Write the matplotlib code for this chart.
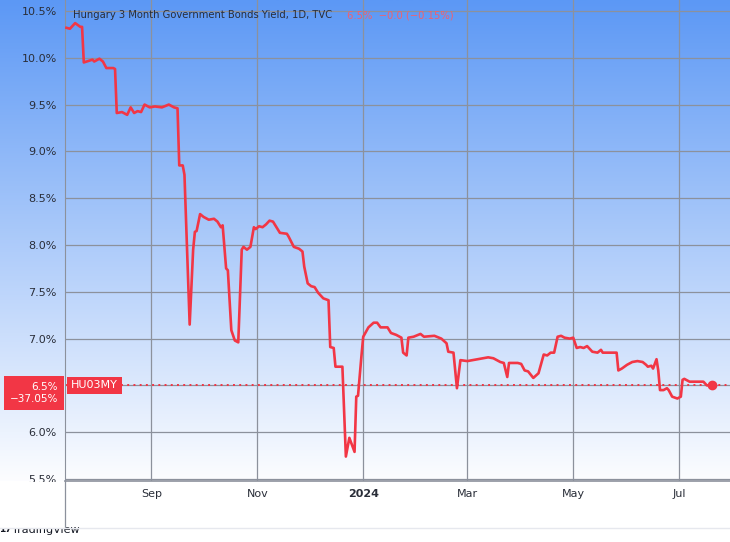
import numpy as np
import pandas as pd
import matplotlib
matplotlib.use("Agg")
import matplotlib.pyplot as plt
from matplotlib.lines import Line2D
from matplotlib.patches import Rectangle

# Hungary 3M government bond yield (%)
dates = [
    "2023-07-14", "2023-07-16", "2023-07-19", "2023-07-22", "2023-07-23", "2023-07-24",
    "2023-07-29", "2023-07-30", "2023-08-02", "2023-08-04", "2023-08-06", "2023-08-10",
    "2023-08-11", "2023-08-12", "2023-08-15", "2023-08-18", "2023-08-20", "2023-08-22",
    "2023-08-24", "2023-08-26", "2023-08-28", "2023-08-31", "2023-09-03", "2023-09-07",
    "2023-09-11", "2023-09-14", "2023-09-16", "2023-09-17", "2023-09-19", "2023-09-20",
    "2023-09-23", "2023-09-25", "2023-09-26", "2023-09-27", "2023-09-29", "2023-10-01",
    "2023-10-04", "2023-10-07", "2023-10-09", "2023-10-11", "2023-10-12", "2023-10-14",
    "2023-10-15", "2023-10-17", "2023-10-19", "2023-10-21", "2023-10-23", "2023-10-24",
    "2023-10-26", "2023-10-28", "2023-10-30", "2023-10-31", "2023-11-02", "2023-11-04",
    "2023-11-06", "2023-11-08", "2023-11-10", "2023-11-12", "2023-11-14", "2023-11-18",
    "2023-11-19", "2023-11-22", "2023-11-25", "2023-11-27", "2023-11-28", "2023-11-30",
    "2023-12-02", "2023-12-04", "2023-12-06", "2023-12-09", "2023-12-12", "2023-12-13",
    "2023-12-15", "2023-12-16", "2023-12-20", "2023-12-22", "2023-12-24", "2023-12-27",
    "2023-12-28", "2023-12-29", "2023-12-31", "2024-01-01", "2024-01-04", "2024-01-07",
    "2024-01-09", "2024-01-11", "2024-01-15", "2024-01-17", "2024-01-20", "2024-01-23",
    "2024-01-24", "2024-01-26", "2024-01-27", "2024-01-30", "2024-02-03", "2024-02-05",
    "2024-02-11", "2024-02-15", "2024-02-18", "2024-02-19", "2024-02-22", "2024-02-24",
    "2024-02-26", "2024-03-01", "2024-03-07", "2024-03-13", "2024-03-16", "2024-03-20",
    "2024-03-22", "2024-03-24", "2024-03-25", "2024-03-30", "2024-04-01", "2024-04-03",
    "2024-04-05", "2024-04-08", "2024-04-11", "2024-04-14", "2024-04-16", "2024-04-18",
    "2024-04-20", "2024-04-22", "2024-04-24", "2024-04-26", "2024-04-29", "2024-05-01",
    "2024-05-03", "2024-05-05", "2024-05-07", "2024-05-09", "2024-05-12", "2024-05-15",
    "2024-05-17", "2024-05-18", "2024-05-23", "2024-05-26", "2024-05-27", "2024-05-29",
    "2024-06-01", "2024-06-04", "2024-06-07", "2024-06-10", "2024-06-12", "2024-06-13",
    "2024-06-15", "2024-06-16", "2024-06-18", "2024-06-19", "2024-06-20", "2024-06-22",
    "2024-06-24", "2024-06-25", "2024-06-27", "2024-06-30", "2024-07-02", "2024-07-03",
    "2024-07-04", "2024-07-07", "2024-07-11", "2024-07-15", "2024-07-17", "2024-07-20",
]
yields = [
    10.32, 10.31, 10.37, 10.33, 10.33, 9.95,
    9.98, 9.96, 9.99, 9.96, 9.89, 9.89,
    9.88, 9.41, 9.42, 9.39, 9.47, 9.41,
    9.43, 9.42, 9.50, 9.47, 9.48, 9.47,
    9.50, 9.47, 9.46, 8.85, 8.85, 8.75,
    7.15, 7.95, 8.14, 8.15, 8.33, 8.30,
    8.27, 8.28, 8.25, 8.19, 8.21, 7.75,
    7.73, 7.09, 6.98, 6.96, 7.95, 7.98,
    7.95, 7.98, 8.19, 8.17, 8.20, 8.19,
    8.22, 8.26, 8.25, 8.19, 8.13, 8.12,
    8.09, 7.98, 7.96, 7.93, 7.77, 7.59,
    7.56, 7.55, 7.49, 7.43, 7.41, 6.91,
    6.90, 6.70, 6.70, 5.74, 5.94, 5.79,
    6.38, 6.39, 6.82, 7.02, 7.12, 7.17,
    7.17, 7.12, 7.12, 7.06, 7.04, 7.01,
    6.85, 6.82, 7.01, 7.02, 7.05, 7.02,
    7.03, 7.00, 6.95, 6.86, 6.85, 6.47,
    6.77, 6.76, 6.78, 6.80, 6.79, 6.75,
    6.74, 6.59, 6.74, 6.74, 6.73, 6.66,
    6.65, 6.58, 6.63, 6.83, 6.82, 6.85,
    6.85, 7.02, 7.03, 7.01, 7.00, 7.01,
    6.90, 6.91, 6.90, 6.92, 6.86, 6.85,
    6.88, 6.85, 6.85, 6.85, 6.66, 6.68,
    6.72, 6.75, 6.76, 6.75, 6.72, 6.70,
    6.71, 6.68, 6.78, 6.66, 6.45, 6.45,
    6.47, 6.45, 6.38, 6.36, 6.38, 6.56,
    6.57, 6.54, 6.54, 6.54, 6.50, 6.50,
]

title = "Hungary 3 Month Government Bonds Yield, 1D, TVC"
quote = "6.5%  \u22120.0 (\u22120.15%)"
symbol = "HU03MY"
last_value = 6.5
last_label = "6.5%\n\u221237.05%"

y_ticks = [5.5, 6.0, 6.5, 7.0, 7.5, 8.0, 8.5, 9.0, 9.5, 10.0, 10.5]
x_tick_dates = ["2023-09-01", "2023-11-01", "2024-01-01", "2024-03-01", "2024-05-01", "2024-07-01"]
x_tick_labels = ["Sep", "Nov", "2024", "Mar", "May", "Jul"]
x_range = ["2023-07-13 04:00", "2024-07-30 08:00"]
y_range = (5.479, 10.617)

RED = "#f23645"
GRID = "#8c919c"
TEXT = "#2a2e39"

W, H = 730, 542
plt.rcParams["font.family"] = ["DejaVu Sans"]


def fx(px):
    return px / W


def fy(py):
    return 1 - py / H


fig = plt.figure(figsize=(W / 100, H / 100), dpi=100, facecolor="white")

# blue -> white gradient behind the price pane (incl. price scale)
top = np.array([92, 152, 245]) / 255
bot = np.array([252, 253, 255]) / 255
t = np.linspace(0, 1, 256)[:, None, None]
grad = top * (1 - t) + bot * t
bg = fig.add_axes([0, fy(481), 1, 481 / H])
bg.imshow(grad, aspect="auto", extent=[0, 1, 0, 1])
bg.axis("off")

ax = fig.add_axes([fx(65), fy(481), fx(665), 481 / H])
ax.patch.set_alpha(0)
x = pd.to_datetime(dates)
ax.plot(x, yields, color=RED, lw=1.9, solid_joinstyle="round", zorder=3)
ax.plot(x[-1], yields[-1], "o", color=RED, ms=6, zorder=4)
ax.axhline(last_value, color=RED, lw=1.4, ls=(0, (1, 2.2)), zorder=2)

ax.set_xlim(pd.to_datetime(x_range))
ax.set_ylim(*y_range)
ax.set_yticks(y_ticks)
# the 6.5 level label is covered by the last-value box
ax.set_yticklabels(["" if v == last_value else f"{v:.1f}%" for v in y_ticks])
ax.set_xticks(pd.to_datetime(x_tick_dates))
ax.set_xticklabels(x_tick_labels)
for lab in ax.get_xticklabels():
    if lab.get_text() == "2024":
        lab.set_fontweight("bold")
ax.tick_params(axis="y", length=0, pad=6, labelsize=8, labelcolor=TEXT)
ax.tick_params(axis="x", length=0, pad=6, labelsize=8, labelcolor=TEXT)
ax.grid(color=GRID, lw=0.9)
ax.set_axisbelow(True)
for s in ["top", "right"]:
    ax.spines[s].set_visible(False)
ax.spines["left"].set_color(GRID)
ax.spines["bottom"].set_color(GRID)
ax.spines["bottom"].set_linewidth(1.2)

# hide lower half of the bottom price label, like the time-scale strip does
fig.patches.append(Rectangle((0, fy(528)), fx(64.5), (528 - 481.6) / H,
                             transform=fig.transFigure, fc="white", ec="none", zorder=5))
fig.lines.append(Line2D([fx(65), fx(65)], [fy(481), fy(528)], color=GRID, lw=0.9,
                        transform=fig.transFigure, zorder=6))
fig.lines.append(Line2D([0, 1], [fy(528), fy(528)], color="#e6e8ee", lw=1.0,
                        transform=fig.transFigure, zorder=6))

# last value labels
ytr = ax.get_yaxis_transform()
ax.annotate(last_label, xy=(0, last_value), xycoords=ytr, xytext=(-5.2, -5.4),
            textcoords="offset points", ha="right", va="center", color="white",
            fontsize=7.5, linespacing=1.25, annotation_clip=False, zorder=7,
            bbox=dict(boxstyle="square,pad=0.55", fc=RED, ec="none"))
ax.annotate(symbol, xy=(0, last_value), xycoords=ytr, xytext=(4.5, 0),
            textcoords="offset points", ha="left", va="center", color="white",
            fontsize=8, annotation_clip=False, zorder=7,
            bbox=dict(boxstyle="square,pad=0.35", fc=RED, ec="none"))

# legend line
fig.text(fx(73), fy(15), title, fontsize=7.2, color=TEXT, va="center", ha="left")
fig.text(fx(347), fy(15), quote, fontsize=7.2, color="#f0606e", va="center", ha="left")

# branding
fig.text(fx(-1), fy(530), "17", fontsize=6.5, fontweight="bold", color="#131722", va="center")
fig.text(fx(12), fy(530), "TradingView", fontsize=8, color="#131722", va="center")

fig.savefig("out.png", dpi=100, facecolor="white")
